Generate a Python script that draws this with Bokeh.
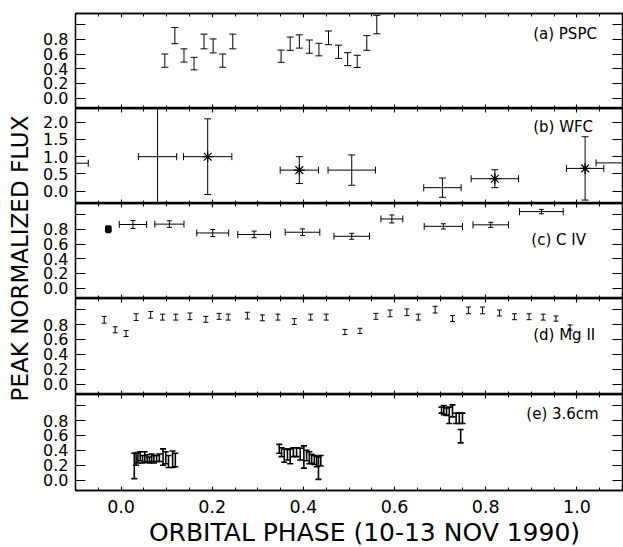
import numpy as np
from bokeh.plotting import figure
from bokeh.layouts import column, row
from bokeh.models import LinearAxis, FixedTicker, Range1d, Label, NumeralTickFormatter
from bokeh.embed import file_html
from bokeh.resources import INLINE

# ---------------- data ----------------
pspc_phase = [0.096, 0.118, 0.138, 0.160, 0.182, 0.202, 0.223, 0.245,
              0.351, 0.371, 0.391, 0.413, 0.434, 0.455, 0.477, 0.497, 0.518, 0.539, 0.561]
pspc_flux = [0.51, 0.85, 0.58, 0.47, 0.77, 0.71, 0.51, 0.77,
             0.57, 0.74, 0.77, 0.70, 0.66, 0.82, 0.63, 0.53, 0.50, 0.75, 1.00]
pspc_err = [0.09, 0.11, 0.09, 0.085, 0.10, 0.095, 0.09, 0.10,
            0.083, 0.09, 0.09, 0.09, 0.085, 0.093, 0.09, 0.088, 0.083, 0.10, 0.125]

wfc_phase = [-0.13, 0.080, 0.190, 0.391, 0.506, 0.705, 0.820, 1.018, 1.12]
wfc_flux = [0.81, 1.00, 1.00, 0.61, 0.61, 0.10, 0.36, 0.66, 0.82]
wfc_xerr = [0.058, 0.042, 0.053, 0.042, 0.052, 0.041, 0.052, 0.041, 0.078]
wfc_yerr = [0.30, 3.0, 1.1, 0.39, 0.44, 0.28, 0.26, 0.92, 0.30]
wfc_star = [False, False, True, True, False, False, True, True, False]

civ_phase = [-0.028, 0.026, 0.106, 0.201, 0.292, 0.398, 0.506, 0.594, 0.707, 0.811, 0.922]
civ_flux = [0.80, 0.865, 0.87, 0.75, 0.73, 0.76, 0.705, 0.94, 0.84, 0.86, 1.04]
civ_xerr = [0.005, 0.030, 0.032, 0.035, 0.036, 0.038, 0.039, 0.024, 0.042, 0.039, 0.048]
civ_yerr = [0.04, 0.054, 0.045, 0.047, 0.045, 0.045, 0.04, 0.054, 0.035, 0.035, 0.03]

mg_phase = [-0.037, -0.013, 0.011, 0.033, 0.065, 0.091, 0.120, 0.151, 0.186, 0.215, 0.235,
            0.277, 0.310, 0.344, 0.380, 0.416, 0.450, 0.491, 0.524, 0.559, 0.590, 0.627,
            0.652, 0.689, 0.727, 0.762, 0.793, 0.830, 0.863, 0.895, 0.926, 0.954, 0.985]
mg_flux = [0.864, 0.73, 0.68, 0.90, 0.93, 0.90, 0.90, 0.91, 0.87, 0.91, 0.90,
           0.92, 0.89, 0.90, 0.84, 0.90, 0.90, 0.70, 0.715, 0.91, 0.95, 0.965,
           0.90, 1.00, 0.88, 0.99, 0.99, 0.955, 0.905, 0.905, 0.90, 0.88, 0.76]
mg_err = [0.045, 0.04, 0.04, 0.045, 0.045, 0.04, 0.04, 0.045, 0.04, 0.04, 0.04,
          0.045, 0.04, 0.04, 0.04, 0.04, 0.04, 0.035, 0.035, 0.04, 0.045, 0.045,
          0.04, 0.045, 0.04, 0.045, 0.045, 0.04, 0.04, 0.04, 0.04, 0.035, 0.035]

radio_phase = [0.029, 0.033, 0.037, 0.042, 0.047, 0.052, 0.057, 0.062, 0.067, 0.072, 0.078,
               0.084, 0.092, 0.098, 0.104, 0.113, 0.119,
               0.347, 0.352, 0.358, 0.365, 0.371, 0.378, 0.385, 0.393, 0.401, 0.407,
               0.413, 0.418, 0.424, 0.429, 0.433, 0.438,
               0.703, 0.708, 0.714, 0.720, 0.727, 0.735, 0.742, 0.745, 0.749]
radio_flux = [0.19, 0.28, 0.30, 0.32, 0.28, 0.31, 0.29, 0.27, 0.30, 0.28, 0.29,
              0.30, 0.31, 0.30, 0.25, 0.28, 0.27,
              0.42, 0.375, 0.33, 0.34, 0.32, 0.375, 0.375, 0.35, 0.31, 0.33,
              0.30, 0.285, 0.27, 0.25, 0.16, 0.26,
              0.94, 0.94, 0.92, 0.87, 0.93, 0.83, 0.83, 0.59, 0.83]
radio_err = [0.17, 0.08, 0.07, 0.06, 0.05, 0.07, 0.05, 0.04, 0.05, 0.05, 0.04,
             0.05, 0.11, 0.08, 0.08, 0.11, 0.09,
             0.06, 0.06, 0.09, 0.07, 0.10, 0.06, 0.06, 0.08, 0.15, 0.07,
             0.08, 0.06, 0.06, 0.07, 0.15, 0.07,
             0.04, 0.06, 0.05, 0.11, 0.08, 0.07, 0.07, 0.09, 0.07]

x_ticks = [0.0, 0.2, 0.4, 0.6, 0.8, 1.0]
y_ticks = [0.0, 0.2, 0.4, 0.6, 0.8, 1.0]
y_ticks_wfc = [0.0, 0.5, 1.0, 1.5, 2.0]

panel_labels = ["(a) PSPC", "(b) WFC", "(c) C IV", "(d) Mg II", "(e) 3.6cm"]
x_title = "ORBITAL PHASE (10-13 NOV 1990)"
y_title = "PEAK NORMALIZED FLUX"

# ---------------- style ----------------
FONT = "DejaVu Sans"
XR = Range1d(-0.1, 1.1)
YR = (-0.14, 1.15)
YR_WFC = (-0.36, 2.40)
minor_x = [round(-0.1 + 0.05 * i, 2) for i in range(25)]
FIG_W = 588


def style_axis(ax, tick_in, minor=False):
    ax.axis_line_color = "black"
    ax.axis_line_width = 1.3
    ax.major_tick_in = tick_in
    ax.major_tick_out = 0
    ax.major_tick_line_color = "black"
    ax.major_tick_line_width = 1.1
    if minor:
        ax.minor_tick_in = 3
        ax.minor_tick_out = 0
        ax.minor_tick_line_color = "black"
    else:
        ax.minor_tick_line_color = None
    ax.major_label_text_font = FONT
    ax.major_label_text_color = "black"
    ax.formatter = NumeralTickFormatter(format="0.0")


def hide_labels(ax):
    ax.major_label_text_color = None
    ax.major_label_text_font_size = "1px"
    ax.major_label_standoff = 0


def make_panel(height, top, bottom, yr, yt, hide_top_label, show_x):
    p = figure(width=FIG_W, height=height, x_range=XR, y_range=Range1d(*yr),
               output_backend="svg", toolbar_location=None,
               x_axis_location=None, y_axis_location=None,
               min_border_left=40, min_border_right=1,
               min_border_top=top, min_border_bottom=bottom)
    p.grid.visible = False
    p.outline_line_color = "black"
    p.outline_line_width = 1.3
    p.background_fill_color = "white"
    p.border_fill_color = "white"

    left = LinearAxis(ticker=FixedTicker(ticks=yt))
    style_axis(left, 10)
    left.major_label_text_font_size = "16px"
    left.major_label_standoff = 7
    if hide_top_label:
        left.major_label_overrides = {1: ""}
    p.add_layout(left, "left")

    right = LinearAxis(ticker=FixedTicker(ticks=yt))
    style_axis(right, 10)
    hide_labels(right)
    p.add_layout(right, "right")

    for loc in ("below", "above"):
        ax = LinearAxis(ticker=FixedTicker(ticks=x_ticks, minor_ticks=minor_x))
        style_axis(ax, 4, minor=True)
        if loc == "below" and show_x:
            ax.major_label_text_font_size = "17.5px"
            ax.major_label_standoff = 9
        else:
            hide_labels(ax)
        p.add_layout(ax, loc)
    return p


def errorbars(p, x, y, yerr, xerr=None, cap=7, xcap=7, lw=1.0):
    x = np.asarray(x, float)
    y = np.asarray(y, float)
    yerr = np.asarray(yerr, float)
    p.segment(x, y - yerr, x, y + yerr, line_color="black", line_width=lw)
    p.scatter(np.r_[x, x], np.r_[y - yerr, y + yerr], marker="dash", size=cap,
              line_color="black", line_width=lw)
    if xerr is not None:
        xerr = np.asarray(xerr, float)
        p.segment(x - xerr, y, x + xerr, y, line_color="black", line_width=lw)
        p.scatter(np.r_[x - xerr, x + xerr], np.r_[y, y], marker="dash", angle=np.pi / 2,
                  size=xcap, line_color="black", line_width=lw)


def panel_label(p, text, x, y):
    p.add_layout(Label(x=x, y=y, text=text, text_font=FONT, text_font_size="15px",
                       text_align="left", text_baseline="middle", text_color="black"))


# (a) PSPC
pa = make_panel(108, 13, 0, YR, y_ticks, True, False)
errorbars(pa, pspc_phase, pspc_flux, pspc_err, cap=7)
panel_label(pa, panel_labels[0], 0.904, 0.865)

# (b) WFC
pb = make_panel(95, 0, 0, YR_WFC, y_ticks_wfc, False, False)
errorbars(pb, wfc_phase, wfc_flux, wfc_yerr, xerr=wfc_xerr, cap=7, xcap=7)
sx = [a for a, s in zip(wfc_phase, wfc_star) if s]
sy = [b for b, s in zip(wfc_flux, wfc_star) if s]
pb.scatter(sx, sy, marker="asterisk", size=11, line_color="black", line_width=1.2)
pb.scatter(sx, sy, marker="circle", size=3, fill_color="black", line_color="black")
panel_label(pb, panel_labels[1], 0.904, 1.86)

# (c) C IV
pc = make_panel(95, 0, 0, YR, y_ticks, True, False)
errorbars(pc, civ_phase[:1], civ_flux[:1], civ_yerr[:1], xerr=civ_xerr[:1], cap=5, xcap=6, lw=2.2)
errorbars(pc, civ_phase[1:], civ_flux[1:], civ_yerr[1:], xerr=civ_xerr[1:], cap=5, xcap=7)
panel_label(pc, panel_labels[2], 0.900, 0.66)

# (d) Mg II
pd_ = make_panel(96, 0, 0, YR, y_ticks, True, False)
errorbars(pd_, mg_phase, mg_flux, mg_err, cap=5)
panel_label(pd_, panel_labels[3], 0.904, 0.656)

# (e) 3.6cm
pe = make_panel(124, 0, 28, YR, y_ticks, True, True)
errorbars(pe, radio_phase, radio_flux, radio_err, cap=6, lw=1.6)
panel_label(pe, panel_labels[4], 0.889, 0.89)

# y title figure
tf = figure(width=35, height=518, x_range=Range1d(0, 35), y_range=Range1d(0, 518),
            output_backend="svg", toolbar_location=None,
            x_axis_location=None, y_axis_location=None, min_border=0)
tf.grid.visible = False
tf.outline_line_color = None
tf.add_layout(Label(x=19, y=518 - 258, text=y_title, angle=np.pi / 2, text_font=FONT,
                    text_font_size="23px", text_align="center", text_baseline="middle",
                    text_color="black"))

# x title figure
xf = figure(width=623, height=29, x_range=Range1d(0, 623), y_range=Range1d(0, 29),
            output_backend="svg", toolbar_location=None,
            x_axis_location=None, y_axis_location=None, min_border=0)
xf.grid.visible = False
xf.outline_line_color = None
xf.add_layout(Label(x=364, y=15, text=x_title, text_font=FONT, text_font_size="25px",
                    text_align="center", text_baseline="middle", text_color="black"))

layout = column(row(tf, column(pa, pb, pc, pd_, pe)), xf)
open("out.html", "w").write(file_html(layout, INLINE))
